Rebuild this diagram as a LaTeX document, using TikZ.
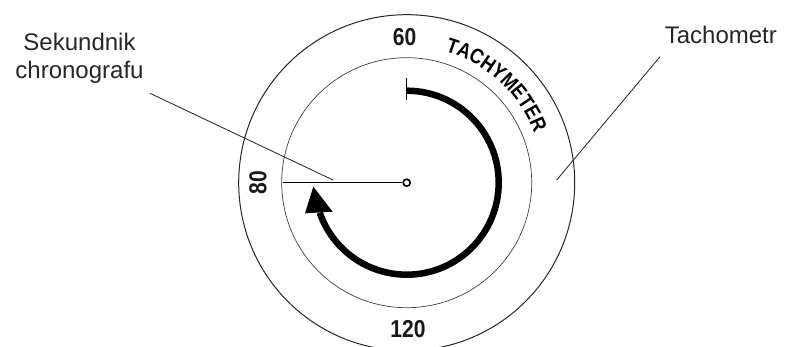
\documentclass[tikz,border=0pt]{standalone}
\usepackage{fontspec}
\setmainfont{Liberation Sans}
\newfontfamily\condbold[FakeStretch=0.86]{Liberation Sans Bold}
\usetikzlibrary{decorations.text}
\begin{document}
\begin{tikzpicture}[x=1pt,y=1pt,
  lbl/.style={font=\fontsize{24}{27.5}\selectfont, text=black!85, inner sep=0},
  num/.style={font=\fontsize{24.5}{28}\selectfont\condbold, text=black!90, inner sep=0},
  ring/.style={draw=black!85, line width=1pt},
  innerring/.style={draw=black!75, line width=0.7pt},
  leader/.style={draw=black!80, line width=0.9pt},
  hand/.style={draw=black, line width=1.6pt}]
\useasboundingbox (0,0) rectangle (786,347);
\clip (0,0) rectangle (786,347);
\coordinate (C) at (406.7,164.3);
% rings
\draw[ring] (C) circle[radius=168];
\draw[innerring] (C) circle[radius=125];
% curved text
\path[shift={(C)}, decorate, decoration={text along path, text align=center,
  text={|\fontsize{21}{24}\selectfont\condbold|TACHYMETER}}]
  (90:137) arc[start angle=90, end angle=5, radius=137];
% numbers
\node[num, anchor=base] (n60) at (404.5,301) {60};
\node[num, anchor=base] (n120) at (408,9) {120};
\node[num, rotate=90] (n80) at (258,164) {80};
% thick arc with arrowhead
\draw[line width=6.5pt, shift={(C)}] (90:92) arc[start angle=90, end angle=-161, radius=92];
\fill (313.3,160.3) -- (305,133.7) -- (332.7,135.3) -- cycle;
\coordinate (tickA) at (406,268.7);
\coordinate (tickB) at (406,247);
\draw[line width=1pt] (tickA) -- (tickB);
% chronograph hand
\node[circle, draw, line width=1.6pt, minimum size=7pt, inner sep=0, fill=white] (pivot) at (C) {};
\coordinate (handEnd) at (283,164.3);
\draw[hand] (pivot) -- (handEnd);
% labels
\node[lbl, align=center, anchor=north] (sek) at (79.5,313.7) {Sekundnik\\chronografu};
\coordinate (sekA) at (150,253.7);
\coordinate (sekB) at (333,167);
\draw[leader] (sekA) -- (sekB);
\node[lbl, anchor=base] (tach) at (720.8,303.7) {Tachometr};
\coordinate (tachA) at (660,290.3);
\coordinate (tachB) at (556.7,167);
\draw[leader] (tachA) -- (tachB);
\end{tikzpicture}
\end{document}
